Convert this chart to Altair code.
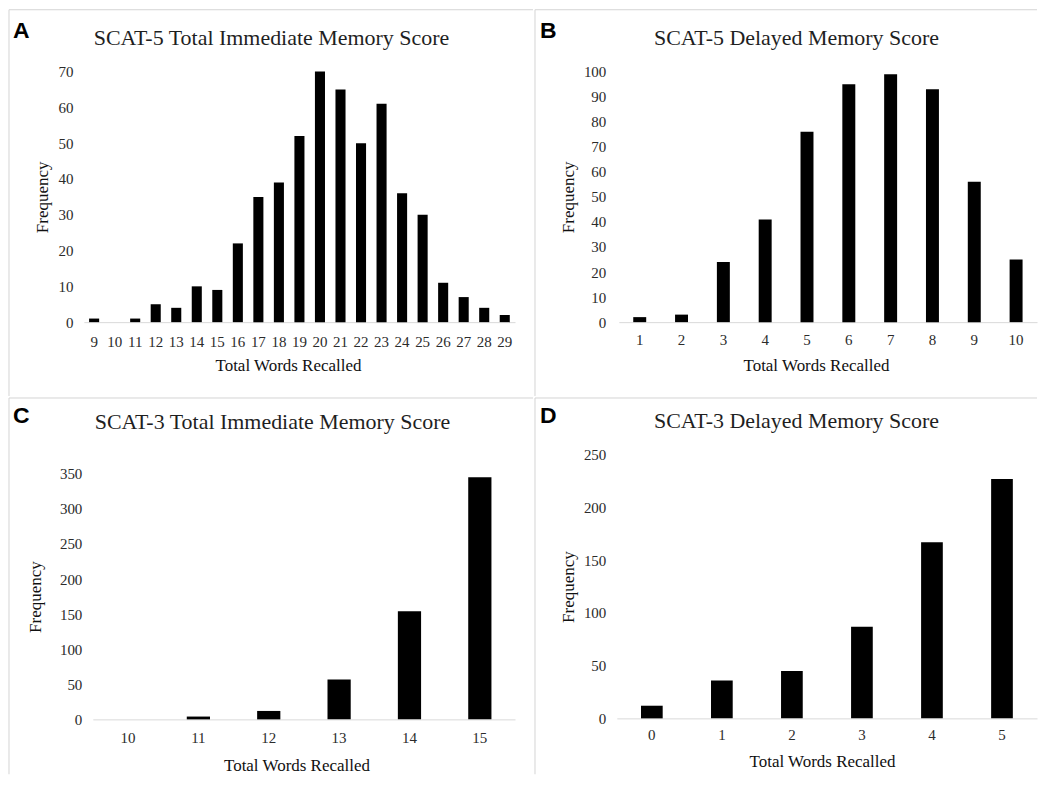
import altair as alt
import pandas as pd

# ---- data ----
a_scores = [9, 10, 11, 12, 13, 14, 15, 16, 17, 18, 19, 20, 21, 22, 23, 24, 25, 26, 27, 28, 29]
a_freq = [1, 0, 1, 5, 4, 10, 9, 22, 35, 39, 52, 70, 65, 50, 61, 36, 30, 11, 7, 4, 2]
b_scores = [1, 2, 3, 4, 5, 6, 7, 8, 9, 10]
b_freq = [2, 3, 24, 41, 76, 95, 99, 93, 56, 25]
c_scores = [10, 11, 12, 13, 14, 15]
c_freq = [0, 4, 12, 57, 154, 345]
d_scores = [0, 1, 2, 3, 4, 5]
d_freq = [12, 36, 45, 87, 167, 227]

a_ticks = [0, 10, 20, 30, 40, 50, 60, 70]
b_ticks = [0, 10, 20, 30, 40, 50, 60, 70, 80, 90, 100]
c_ticks = [0, 50, 100, 150, 200, 250, 300, 350]
d_ticks = [0, 50, 100, 150, 200, 250]

SERIF = "Liberation Serif"
SANS = "Liberation Sans"
LABEL_COLOR = "#2b2b2b"
FRAME_COLOR = "#d4d4d4"


def panel(letter, title, scores, freq, ticks, w, h, xrange, pad_inner, frame,
          title_pos, letter_pos, xlab_pad, ylab_pad, xtitle_pos, ytitle_x):
    df = pd.DataFrame({"score": scores, "freq": freq})
    bars = alt.Chart(df).mark_bar(color="black").encode(
        x=alt.X(
            "score:O",
            sort=scores,
            scale=alt.Scale(range=xrange, paddingInner=pad_inner, paddingOuter=pad_inner / 2),
            axis=alt.Axis(
                title="Total Words Recalled",
                labelAngle=0,
                ticks=False,
                tickSize=0,
                domainColor="#d9d9d9",
                domainWidth=1,
                labelFont=SERIF,
                labelFontSize=15,
                labelColor=LABEL_COLOR,
                labelPadding=xlab_pad,
                labelBaseline="middle",
                titleFont=SERIF,
                titleFontSize=17,
                titleFontWeight="normal",
                titleColor="#111111",
                titleX=xtitle_pos[0],
                titleY=xtitle_pos[1],
                titleBaseline="middle",
                titleAlign="center",
            ),
        ),
        y=alt.Y(
            "freq:Q",
            scale=alt.Scale(domain=[0, ticks[-1]], nice=False),
            axis=alt.Axis(
                values=ticks,
                title="Frequency",
                domain=False,
                ticks=False,
                tickSize=0,
                grid=False,
                labelFont=SERIF,
                labelFontSize=15,
                labelColor=LABEL_COLOR,
                labelPadding=ylab_pad,
                titleFont=SERIF,
                titleFontSize=17,
                titleFontWeight="normal",
                titleColor="#111111",
                titleX=ytitle_x,
                titleY=h / 2,
                titleBaseline="middle",
                titleAlign="center",
            ),
        ),
    )
    fl, ft, fr, fb = frame
    one = alt.Data(values=[{}])
    left = alt.Chart(one).mark_rule(color=FRAME_COLOR, strokeWidth=1).encode(
        x=alt.value(fl), y=alt.value(ft), y2=alt.value(fb)
    )
    top = alt.Chart(one).mark_rule(color=FRAME_COLOR, strokeWidth=1).encode(
        x=alt.value(fl), x2=alt.value(fr), y=alt.value(ft)
    )
    ttl = alt.Chart(one).mark_text(
        text=title, font=SERIF, fontSize=22, color="#1f1f1f",
        align="center", baseline="alphabetic"
    ).encode(x=alt.value(title_pos[0]), y=alt.value(title_pos[1]))
    let = alt.Chart(one).mark_text(
        text=letter, font=SANS, fontWeight="bold", fontSize=23, color="black",
        align="left", baseline="alphabetic"
    ).encode(x=alt.value(letter_pos[0]), y=alt.value(letter_pos[1]))
    return alt.layer(bars, left, top, ttl, let).properties(width=w, height=h)


A = panel("A", "SCAT-5 Total Immediate Memory Score", a_scores, a_freq, a_ticks,
          432, 251, [0, 432], 0.51, (-75, -62, 450, 325), (188, -27), (-71, -34),
          19, 11, (204.5, 43), -41)
B = panel("B", "SCAT-5 Delayed Memory Score", b_scores, b_freq, b_ticks,
          419, 251, [0, 419], 0.69, (-84, -62, 419, 325), (178, -27), (-79, -34),
          17, 13, (197.5, 43), -50)
C = panel("C", "SCAT-3 Total Immediate Memory Score", c_scores, c_freq, c_ticks,
          432, 246, [9, 432], 0.67, (-75, -76, 450, 301), (189, -45), (-71, -51),
          18.5, 2, (213, 46), -48)
D = panel("D", "SCAT-3 Delayed Memory Score", d_scores, d_freq, d_ticks,
          421, 264, [0, 421], 0.69, (-82, -57, 421, 320), (180, -27), (-77, -32),
          16, 11, (205.6, 43.5), -48)

chart = alt.concat(
    A, B, C, D, columns=2, spacing=0, align="none"
).properties(
    padding={"left": 0, "top": 0, "right": 0, "bottom": 0},
    background="white",
).configure_view(stroke=None).configure_concat(spacing=0)

chart.save("out.html", embed_options={"renderer": "svg", "actions": False})
